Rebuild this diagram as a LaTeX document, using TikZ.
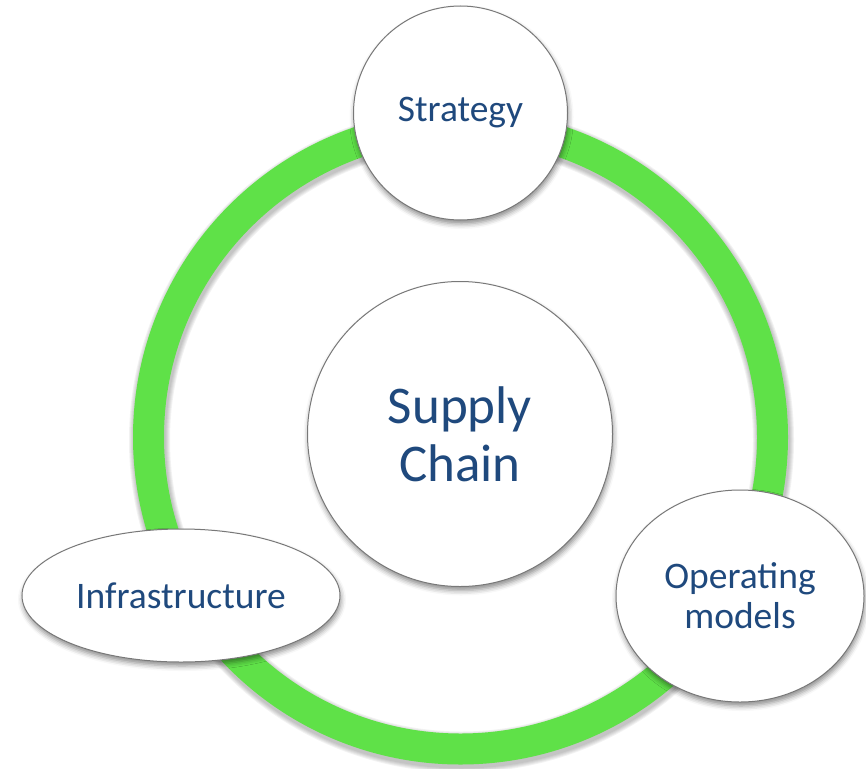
\documentclass[tikz,border=0pt]{standalone}
\usepackage{fontspec}
\setmainfont{Carlito}
\usetikzlibrary{shapes.geometric,shadows.blur}
\definecolor{ringgreen}{RGB}{95,225,72}
\definecolor{txtblue}{RGB}{31,73,125}
\definecolor{edgegray}{RGB}{120,120,120}
\tikzset{
  bubble/.style={draw=edgegray, line width=1pt, fill=white, text=txtblue, inner sep=0pt, align=center,
    blur shadow={shadow xshift=1pt, shadow yshift=-4pt, shadow blur radius=5pt, shadow opacity=45}},
  smalltxt/.style={font=\fontsize{37.5}{40}\selectfont},
  bigtxt/.style={font=\fontsize{53}{58}\selectfont},
}
\begin{document}
\begin{tikzpicture}[x=1pt,y=-1pt]
\useasboundingbox (0,0) rectangle (866,768);
% ring shadow
\foreach \k in {1,...,5}{
  \draw[black, opacity=0.05, line width={31+2*\k}] (461.5,440) circle[radius=312];
}
\draw[ringgreen, line width=31] (460.5,437) circle[radius=312];
\coordinate (ringc) at (460.5,437);
% nodes
\node[bubble, circle, minimum size=305pt, bigtxt] (sc) at (460,434) {Supply\\Chain};
\node[bubble, circle, minimum size=214pt, smalltxt] (st) at (460.5,113) {Strategy};
\node[bubble, ellipse, minimum width=248pt, minimum height=212pt, smalltxt] (om) at (740,596) {Operating\\models};
\node[bubble, ellipse, minimum width=318pt, minimum height=133pt, smalltxt] (inf) at (181,595.5) {Infrastructure};
\end{tikzpicture}
\end{document}
